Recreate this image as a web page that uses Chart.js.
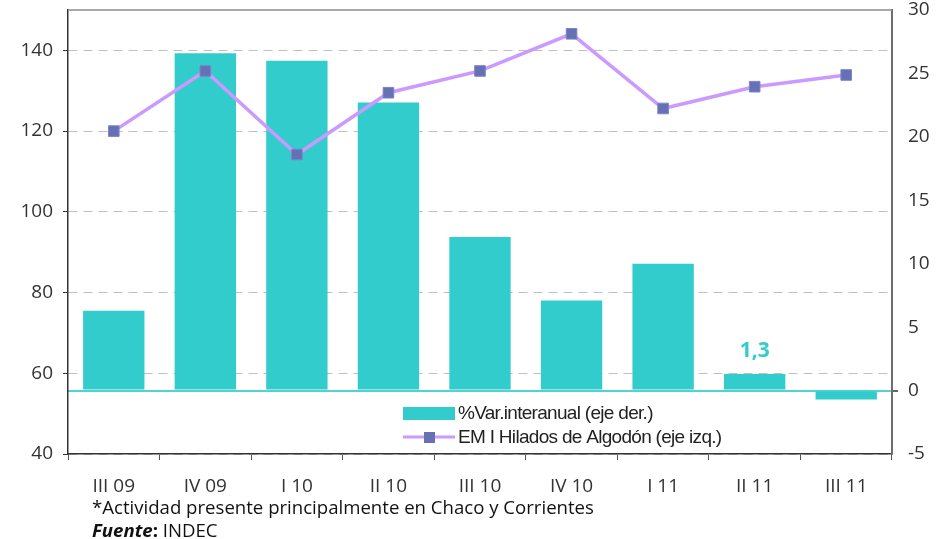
<!DOCTYPE html>
<html>
<head>
<meta charset="utf-8">
<script src="https://cdn.jsdelivr.net/npm/chart.js@4.4.1/dist/chart.umd.min.js"></script>
<style>
  html, body { margin: 0; padding: 0; background: #fff; }
  #wrap { position: relative; width: 952px; height: 539px; }
  canvas { position: absolute; left: 0; top: 0; }
  .note { position: absolute; left: 92px; font-family: "Open Sans", sans-serif; font-size: 18.6px; color: #111; white-space: nowrap; line-height: 22px; }
</style>
</head>
<body>
<div id="wrap">
  <canvas id="c" width="952" height="539"></canvas>
  <div class="note" style="top:496px">*Actividad presente principalmente en Chaco y Corrientes</div>
  <div class="note" style="top:519px"><b><i>Fuente</i>:</b> INDEC</div>
</div>
<script>
const categories = ["III 09", "IV 09", "I 10", "II 10", "III 10", "IV 10", "I 11", "II 11", "III 11"];
const varInteranual = [6.3, 26.6, 26.0, 22.7, 12.1, 7.1, 10.0, 1.3, -0.7];
const emiHilados = [120.0, 134.9, 114.2, 129.5, 134.9, 144.1, 125.6, 131.0, 133.9];
const leftTicks = [40, 60, 80, 100, 120, 140];
const rightTicks = [-5, 0, 5, 10, 15, 20, 25, 30];
const barLabel = "%Var.interanual (eje der.)";
const lineLabel = "EM I Hilados de Algodón (eje izq.)";
const highlightIndex = 7;
const highlightText = "1,3";

const TEAL = "#33CCCC";
const LINE = "#CC99FF";
const MARK = "#6670B4";
const tickFont = { family: "Open Sans", size: 19 };

const extrasPlugin = {
  id: "extras",
  afterDatasetsDraw(chart) {
    const ctx = chart.ctx;
    const a = chart.chartArea;
    ctx.save();
    ctx.strokeStyle = "#8c8c8c";
    ctx.lineWidth = 1.5;
    ctx.beginPath();
    ctx.moveTo(a.left, a.top);
    ctx.lineTo(a.right, a.top);
    ctx.stroke();
    const barMeta = chart.getDatasetMeta(1);
    const el = barMeta.data[highlightIndex];
    ctx.fillStyle = TEAL;
    ctx.font = "bold 21px 'Open Sans'";
    ctx.textAlign = "center";
    ctx.textBaseline = "middle";
    ctx.fillText(highlightText, el.x, el.y - 23);
    const lx = 403, ly1 = 413, ly2 = 437;
    ctx.fillStyle = TEAL;
    ctx.fillRect(lx, ly1 - 6, 52, 13);
    ctx.strokeStyle = LINE;
    ctx.lineWidth = 3;
    ctx.beginPath();
    ctx.moveTo(lx, ly2);
    ctx.lineTo(lx + 52, ly2);
    ctx.stroke();
    ctx.fillStyle = MARK;
    ctx.fillRect(lx + 21, ly2 - 5, 11, 11);
    ctx.fillStyle = "#222";
    ctx.font = "19px 'Liberation Sans'";
    ctx.textAlign = "left";
    ctx.textBaseline = "middle";
    try { ctx.letterSpacing = "-0.7px"; } catch (e) {}
    ctx.fillText(chart.data.datasets[1].label, 458, ly1 + 1);
    ctx.fillText(chart.data.datasets[0].label, 458, ly2 + 1);
    ctx.restore();
  }
};

new Chart(document.getElementById("c"), {
  type: "bar",
  data: {
    labels: categories,
    datasets: [
      {
        type: "line",
        label: lineLabel,
        data: emiHilados,
        yAxisID: "y",
        borderColor: LINE,
        borderWidth: 3.5,
        pointStyle: "rect",
        pointRadius: 7.5,
        pointBackgroundColor: MARK,
        pointBorderColor: "#7e84c6",
        pointBorderWidth: 1,
        tension: 0,
        order: 0
      },
      {
        type: "bar",
        label: barLabel,
        data: varInteranual,
        yAxisID: "y2",
        backgroundColor: TEAL,
        borderWidth: 0,
        categoryPercentage: 1,
        barPercentage: 0.67,
        order: 1
      }
    ]
  },
  options: {
    responsive: false,
    animation: false,
    events: [],
    layout: { padding: { top: 10, left: 0, right: 0, bottom: 0 } },
    plugins: { legend: { display: false }, tooltip: { enabled: false } },
    scales: {
      x: {
        position: "bottom",
        grid: { drawOnChartArea: false, drawTicks: true, tickLength: 6, tickColor: "#555", offset: true },
        border: { color: "#333", width: 1.5 },
        ticks: { color: "#333", font: tickFont, padding: 15, maxRotation: 0 },
        afterFit(s) { s.height = 85; s.paddingLeft = 0; s.paddingRight = 0; }
      },
      y: {
        position: "left",
        min: 40,
        max: 150,
        afterBuildTicks(s) { s.ticks = leftTicks.map(v => ({ value: v })); },
        grid: { color: "#c0c0c0", lineWidth: 1, tickLength: 5, tickColor: "#333", drawTicks: true },
        border: { color: "#333", width: 1.5, dash: [9, 6] },
        ticks: { color: "#333", font: tickFont, padding: 10 },
        afterFit(s) { s.width = 68; s.paddingTop = 0; s.paddingBottom = 0; }
      },
      y2: {
        position: "right",
        min: -5,
        max: 30,
        afterBuildTicks(s) { s.ticks = rightTicks.map(v => ({ value: v })); },
        grid: {
          drawOnChartArea: true,
          color: c => (c.tick && c.tick.value === 0 ? "#4fd3d3" : "rgba(0,0,0,0)"),
          lineWidth: c => (c.tick && c.tick.value === 0 ? 2 : 0),
          tickLength: 6,
          tickColor: "#666"
        },
        border: { color: "#6e6e6e", width: 2 },
        ticks: { color: "#333", font: tickFont, padding: 10 },
        afterFit(s) { s.width = 60; s.paddingTop = 0; s.paddingBottom = 0; }
      }
    }
  },
  plugins: [extrasPlugin]
});
</script>
</body>
</html>
